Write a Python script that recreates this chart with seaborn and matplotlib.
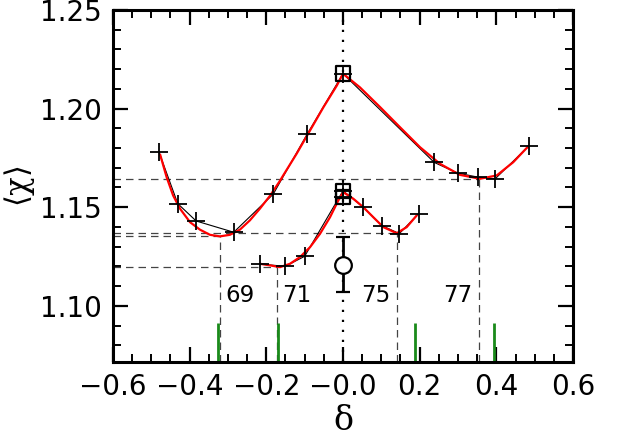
import numpy as np
import pandas as pd
import seaborn as sns
import matplotlib
matplotlib.use("Agg")
import matplotlib.pyplot as plt
from matplotlib.ticker import MultipleLocator, FixedLocator, FixedFormatter

# ---------------- data ----------------
up_x = [-0.480, -0.431, -0.383, -0.285, -0.182, -0.093, 0.0, 0.238, 0.299, 0.353, 0.397, 0.485]
up_y = [1.1780, 1.1518, 1.1430, 1.1373, 1.1566, 1.1872, 1.2177, 1.1727, 1.1673, 1.1652, 1.1644, 1.1811]

lo_x = [-0.216, -0.151, -0.100, 0.0, 0.053, 0.102, 0.147, 0.197]
lo_y = [1.1212, 1.1200, 1.1251, 1.1583, 1.1500, 1.1406, 1.1366, 1.1467]

sq_x = [0.0, 0.0, 0.0]
sq_y = [1.2177, 1.1583, 1.1551]

red_up_x = [-0.477, -0.460, -0.443, -0.425, -0.399, -0.373, -0.347, -0.321, -0.295, -0.269,
            -0.243, -0.217, -0.190, -0.164, -0.156, -0.121, -0.086, -0.051, -0.016, 0.0,
            0.044, 0.097, 0.149, 0.201, 0.253, 0.305, 0.357, 0.401, 0.444, 0.483]
red_up_y = [1.1767, 1.1652, 1.1559, 1.1492, 1.1424, 1.1386, 1.1360, 1.1352, 1.1360, 1.1386,
            1.1433, 1.1492, 1.1559, 1.1635, 1.1661, 1.1771, 1.1889, 1.2007, 1.2117, 1.2177,
            1.2108, 1.2007, 1.1905, 1.1804, 1.1720, 1.1664, 1.1644, 1.1661, 1.1728, 1.1808]

red_lo_x = [-0.2165, -0.1904, -0.1643, -0.1383, -0.1122, -0.0861, -0.0600, -0.0339, -0.0123, 0.0008,
            0.0269, 0.0530, 0.0791, 0.1052, 0.1401, 0.1662, 0.1923]
red_lo_y = [1.1213, 1.1205, 1.1196, 1.1213, 1.1247, 1.1297, 1.1365, 1.1449, 1.1534, 1.1576,
            1.1543, 1.1500, 1.1449, 1.1399, 1.1368, 1.1399, 1.1458]

min_x = [-0.321, -0.173, 0.140, 0.355]
min_y = [1.1352, 1.1196, 1.1368, 1.1644]
min_labels = ["69", "71", "75", "77"]

green_x = [-0.326, -0.170, 0.188, 0.394]
green_top = 1.0915

err_x = [0.0]
err_y = [1.1208]
err_e = [0.0140]

xticks = [-0.6, -0.4, -0.2, 0.0, 0.2, 0.4, 0.6]
xtick_labels = ["\u22120.6", "\u22120.4", "\u22120.2", "\u22120.0", "0.2", "0.4", "0.6"]
yticks = [1.10, 1.15, 1.20, 1.25]
ytick_labels = ["1.10", "1.15", "1.20", "1.25"]

# ---------------- style ----------------
sns.set_theme(style="ticks")
plt.rcParams["font.family"] = ["DejaVu Sans"]
plt.rcParams["mathtext.fontset"] = "dejavuserif"
plt.rcParams["text.color"] = "black"
plt.rcParams["axes.labelcolor"] = "black"

fig = plt.figure(figsize=(6.17, 4.38), dpi=100)
ax = fig.add_axes([0.1831, 0.1735, 0.7456, 0.8037])

xlim = (-0.6, 0.6)
ylim = (1.0715, 1.25)
ax.set_xlim(*xlim)
ax.set_ylim(*ylim)

dash_col = "#444444"
# dashed guide lines
ax.hlines(min_y, xlim[0], min_x, colors=dash_col, linestyles=(0, (6, 4)), linewidth=0.9, zorder=1)
ax.vlines(min_x, ylim[0], min_y, colors=dash_col, linestyles=(0, (6, 4)), linewidth=0.9, zorder=1)
# dotted vertical line at zero
ax.axvline(0.0, color="black", linestyle=(0, (1, 3.5)), linewidth=1.6, zorder=1)
# green markers
ax.vlines(green_x, ylim[0], green_top, colors="#1a8a1a", linewidth=2.0, zorder=2)

# thin black data lines
df_up = pd.DataFrame({"x": up_x, "y": up_y})
df_lo = pd.DataFrame({"x": lo_x, "y": lo_y})
sns.lineplot(data=df_up, x="x", y="y", sort=False, estimator=None, color="black",
             linewidth=0.8, ax=ax, zorder=3)
sns.lineplot(data=df_lo, x="x", y="y", sort=False, estimator=None, color="black",
             linewidth=0.8, ax=ax, zorder=3)

# red fitted curves
df_rup = pd.DataFrame({"x": red_up_x, "y": red_up_y})
df_rlo = pd.DataFrame({"x": red_lo_x, "y": red_lo_y})
sns.lineplot(data=df_rup, x="x", y="y", sort=False, estimator=None, color="red",
             linewidth=1.6, ax=ax, zorder=4)
sns.lineplot(data=df_rlo, x="x", y="y", sort=False, estimator=None, color="red",
             linewidth=1.6, ax=ax, zorder=4)

# crosses
df_pts = pd.DataFrame({"x": up_x + lo_x + sq_x[2:], "y": up_y + lo_y + sq_y[2:]})
sns.scatterplot(data=df_pts, x="x", y="y", marker="+", s=170, color="black",
                linewidth=1.3, ax=ax, zorder=5)
# squares
df_sq = pd.DataFrame({"x": sq_x, "y": sq_y})
sns.scatterplot(data=df_sq, x="x", y="y", marker="s", s=110, facecolor="none",
                edgecolor="black", linewidth=1.6, ax=ax, zorder=5)

# error bar point
ax.errorbar(err_x, err_y, yerr=err_e, fmt="o", mfc="white", mec="black", ms=12,
            mew=1.6, ecolor="black", elinewidth=2.0, capsize=5, capthick=2.0, zorder=6)

# labels at the minima
for mx, lab in zip(min_x, min_labels):
    if mx < 0:
        ax.annotate(lab, (mx, 1.1052), xytext=(4, 0), textcoords="offset points",
                    ha="left", va="center", fontsize=16.5, color="black")
    else:
        ax.annotate(lab, (mx, 1.1052), xytext=(-4.5, 0), textcoords="offset points",
                    ha="right", va="center", fontsize=16.5, color="black")

# axes
ax.xaxis.set_major_locator(FixedLocator(xticks))
ax.xaxis.set_major_formatter(FixedFormatter(xtick_labels))
ax.xaxis.set_minor_locator(MultipleLocator(0.05))
ax.yaxis.set_major_locator(FixedLocator(yticks))
ax.yaxis.set_major_formatter(FixedFormatter(ytick_labels))
ax.yaxis.set_minor_locator(MultipleLocator(0.01))

ax.tick_params(which="both", direction="in", top=True, right=True, colors="black",
               labelsize=20)
ax.tick_params(which="major", length=11, width=1.6, pad=8)
ax.tick_params(which="minor", length=5.5, width=1.4)
for sp in ax.spines.values():
    sp.set_linewidth(2.2)
    sp.set_color("black")

ax.set_xlabel(r"$\mathrm{\delta}$", fontsize=24, labelpad=2, color="black")
ax.set_ylabel(r"$\langle\mathrm{\chi}\rangle$", fontsize=22, labelpad=2, color="black")
ax.grid(False)

fig.savefig("out.png", dpi=100)
